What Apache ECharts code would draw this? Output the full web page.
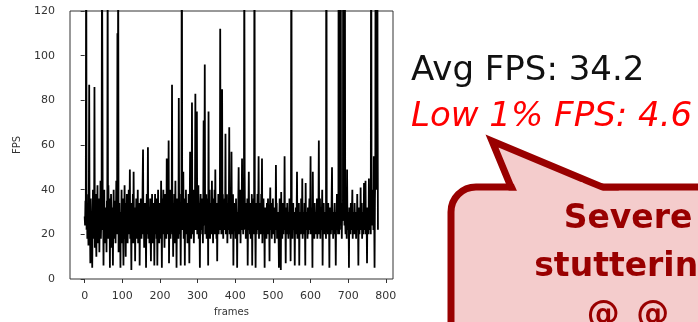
<!DOCTYPE html>
<html>
<head>
<meta charset="utf-8">
<script src="https://cdn.jsdelivr.net/npm/echarts@6/dist/echarts.min.js"></script>
<style>
  html, body { margin: 0; padding: 0; background: #fff; }
  #chart { width: 698px; height: 322px; }
</style>
</head>
<body>
<div id="chart"></div>
<script>
// fps per frame (spikes above 120 are clipped by the axis)
const fps = [
  28,24,35,30,180,22,38,18,30,26,15,33,87,20,28,7,36,24,8,30,
  5,26,40,18,32,22,86,14,30,38,20,10,34,25,42,16,28,20,36,12,
  30,24,44,18,26,38,150,93,22,34,6,28,40,16,24,32,20,30,12,35,
  25,140,18,42,28,22,36,5,30,20,38,26,14,32,24,6,28,40,18,30,
  22,35,16,28,44,30,20,110,38,150,12,26,34,18,28,5,30,22,40,16,
  28,36,20,6,32,24,42,18,26,10,34,22,38,28,16,30,24,40,20,26,
  49,18,30,24,4,34,22,28,38,16,48,20,26,32,8,30,24,36,18,28,
  22,40,16,30,26,34,6,28,20,36,24,18,32,26,44,58,20,30,14,28,
  34,22,26,5,30,38,20,28,59,18,24,32,16,28,36,20,8,30,24,38,
  26,16,34,22,30,6,28,38,20,24,36,18,30,6,26,40,22,28,16,34,
  24,30,18,44,26,5,36,22,28,40,20,32,14,26,38,22,30,18,54,28,
  20,34,24,62,7,30,26,40,18,36,28,22,87,20,30,10,34,24,38,16,
  28,44,20,32,5,26,36,22,30,18,81,24,38,20,30,6,28,26,200,34,
  22,30,48,18,26,36,6,32,24,40,20,28,34,16,30,22,38,26,7,30,
  57,24,32,18,28,79,20,34,26,40,16,30,24,36,83,22,28,38,75,20,
  30,24,42,18,34,26,5,32,38,22,28,36,20,30,16,34,71,24,28,96,
  20,32,26,38,18,30,24,36,6,75,22,30,40,18,28,24,34,20,44,26,
  30,16,36,24,28,40,20,49,26,32,18,34,8,30,24,38,20,28,36,22,
  112,26,34,20,30,85,24,38,18,32,28,22,36,26,65,20,30,24,38,16,
  28,34,22,30,68,20,26,36,18,30,57,24,32,20,38,6,28,34,22,30,
  26,18,36,24,30,5,28,22,34,50,20,32,26,40,16,28,22,30,54,24,
  30,20,36,26,150,47,22,30,18,28,34,24,36,6,26,30,48,22,28,20,
  34,18,28,24,38,6,30,26,22,36,20,180,28,24,5,30,34,20,26,38,
  22,28,55,18,30,26,34,20,24,38,28,54,16,30,24,36,20,28,5,32,
  26,22,30,18,34,24,28,36,20,30,26,8,32,41,22,28,34,18,30,24,
  36,20,28,24,32,16,30,22,51,26,34,18,28,24,30,20,5,28,36,22,
  30,4,39,24,28,18,34,26,20,30,24,55,22,28,7,32,26,20,34,24,
  28,18,30,24,36,20,26,8,32,200,24,30,18,28,34,22,26,30,6,28,
  24,32,20,28,48,18,30,26,22,34,6,28,24,30,20,36,26,22,45,18,
  30,24,28,20,34,26,6,43,22,30,24,28,18,32,26,20,28,36,22,30,
  55,20,28,24,32,5,48,22,30,26,18,34,24,28,20,30,26,36,18,28,
  24,30,62,20,28,36,18,26,32,22,30,40,6,28,24,34,20,26,30,22,
  28,18,220,24,30,26,20,34,22,28,5,32,24,30,20,26,36,50,22,28,
  18,30,24,28,34,20,26,6,30,24,38,22,28,20,34,300,20,250,24,30,
  200,22,28,18,34,26,30,260,30,280,24,190,26,20,28,34,18,49,24,30,
  22,28,5,32,24,30,20,34,26,22,30,40,18,28,24,30,20,34,26,22,
  28,18,30,24,38,22,28,6,32,26,20,30,24,41,22,28,34,18,26,30,
  24,20,43,28,22,34,44,20,30,26,7,32,24,30,20,45,26,22,28,34,
  20,200,30,24,36,28,40,22,55,30,5,36,48,220,40,300,60,250,80,22
]
const frameTicks = [0, 100, 200, 300, 400, 500, 600, 700, 800]
const fpsTicks = [0, 20, 40, 60, 80, 100, 120]
const avgLabel = 'Avg FPS: 34.2'
const lowLabel = 'Low 1% FPS: 4.6'
const bubbleLines = ['Severe', 'stuttering', '@_@']

const chart = echarts.init(document.getElementById('chart'))

const tickFont = { fontFamily: 'DejaVu Sans', fontSize: 11, color: '#333' }
const bubbleRed = '#990000'
const bubbleFill = '#f4cccc'

chart.setOption({
  animation: false,
  grid: {
    left: 70, top: 11, width: 323, height: 269,
    show: true, borderColor: '#333', borderWidth: 1
  },
  xAxis: {
    type: 'value',
    min: -39,
    max: 819,
    name: 'frames',
    nameLocation: 'middle',
    nameGap: 28,
    nameTextStyle: { fontFamily: 'DejaVu Sans', fontSize: 10, color: '#333' },
    axisLine: { show: false },
    axisTick: { show: true, length: 4, lineStyle: { color: '#333' }, customValues: frameTicks },
    axisLabel: { ...tickFont, margin: 12, customValues: frameTicks },
    splitLine: { show: false }
  },
  yAxis: {
    type: 'value',
    min: 0,
    max: 120,
    interval: 20,
    name: 'FPS',
    nameLocation: 'middle',
    nameGap: 48,
    nameTextStyle: { fontFamily: 'DejaVu Sans', fontSize: 10, color: '#333' },
    axisLine: { show: false },
    axisTick: { show: true, length: 4, lineStyle: { color: '#333' }, customValues: fpsTicks },
    axisLabel: { ...tickFont, margin: 15, customValues: fpsTicks },
    splitLine: { show: false }
  },
  series: [
    {
      type: 'line',
      data: fps.map((v, i) => [i, v]),
      showSymbol: false,
      symbol: 'none',
      clip: true,
      lineStyle: { color: '#000', width: 1.8 },
      emphasis: { disabled: true }
    }
  ],
  graphic: [
    {
      type: 'text', left: 411, top: 54,
      style: { text: avgLabel, font: '34px "DejaVu Sans"', fill: '#111' }
    },
    {
      type: 'text', left: 411, top: 100,
      style: { text: lowLabel, font: 'italic 34px "DejaVu Sans"', fill: '#ff0000' }
    },
    // speech bubble, runs off the right and bottom edges
    {
      type: 'rect',
      shape: { x: 451, y: 187, width: 300, height: 200, r: 25 },
      style: { fill: bubbleFill, stroke: bubbleRed, lineWidth: 7 }
    },
    {
      type: 'polygon',
      shape: { points: [[511, 187], [492, 141], [602, 187]] },
      style: { fill: bubbleFill, stroke: bubbleRed, lineWidth: 7, lineJoin: 'miter' }
    },
    {
      type: 'polygon',
      shape: { points: [[513, 182], [581, 182], [603, 191], [517, 191]] },
      style: { fill: bubbleFill }
    },
    ...bubbleLines.map((t, i) => ({
      type: 'text',
      style: {
        text: t, x: 628, y: 203 + i * 48,
        font: 'bold 33px "DejaVu Sans"', fill: bubbleRed,
        textAlign: 'center'
      }
    }))
  ]
})
</script>
</body>
</html>
